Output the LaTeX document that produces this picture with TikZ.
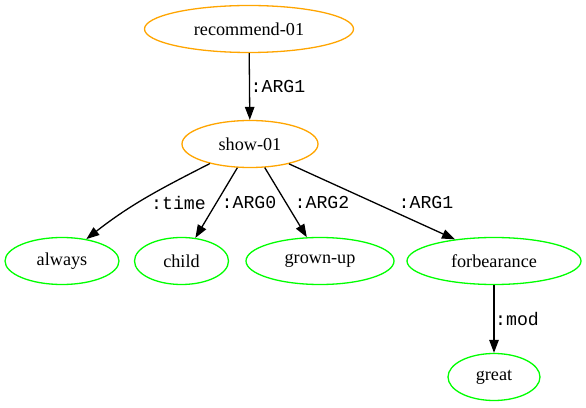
\documentclass[tikz,border=0pt]{standalone}
\usepackage{fontspec}
\setmainfont{Liberation Serif}
\newfontfamily\edgefont{Liberation Mono}
\usetikzlibrary{shapes.geometric,arrows.meta}

\definecolor{conceptorange}{RGB}{255,165,0}
\definecolor{leafgreen}{RGB}{0,255,0}

\tikzset{
  concept/.style={ellipse, draw=conceptorange, line width=1.3pt, inner sep=0pt,
    minimum height=47pt, font=\fontsize{18.2}{22}\selectfont},
  leaf/.style={ellipse, draw=leafgreen, line width=1.3pt, inner sep=0pt,
    minimum height=47pt, font=\fontsize{18.2}{22}\selectfont},
  rel/.style={draw=black, line width=1.3pt, -{Triangle[length=13pt,width=9.5pt]}},
  rellabel/.style={inner sep=0pt, font=\edgefont\fontsize{18.2}{22}\selectfont}
}

\begin{document}
\begin{tikzpicture}[x=1pt,y=1pt]
  \useasboundingbox (0,0) rectangle (586,407);

  % concepts
  \node[concept, minimum width=209pt] (recommend) at (249,378) {recommend-01};
  \node[concept, minimum width=136pt] (show) at (250,263) {show-01};

  % leaves
  \node[leaf, minimum width=114pt] (always) at (62,146) {always};
  \node[leaf, minimum width=94pt]  (child) at (181.5,146) {child};
  \node[leaf, minimum width=148pt] (grownup) at (320,146) {grown-up};
  \node[leaf, minimum width=174pt] (forbearance) at (494,146) {forbearance};
  \node[leaf, minimum width=92pt]  (great) at (494,30) {great};

  % relations
  \draw[rel] (recommend) -- (show);
  \draw[rel] (show.206) to[out=207,in=38] (always.42);
  \draw[rel] (show.242) -- (child.59);
  \draw[rel] (show.302) -- (grownup.119);
  \draw[rel] (show.333) -- (forbearance.151);
  \draw[rel] (forbearance) -- (great);

  % relation labels
  \node[rellabel] (l1) at (278,320) {:ARG1};
  \node[rellabel] (l2) at (178.5,204) {:time};
  \node[rellabel] (l3) at (249,204) {:ARG0};
  \node[rellabel] (l4) at (322,204) {:ARG2};
  \node[rellabel] (l5) at (426,204) {:ARG1};
  \node[rellabel] (l6) at (517,88) {:mod};
\end{tikzpicture}
\end{document}
